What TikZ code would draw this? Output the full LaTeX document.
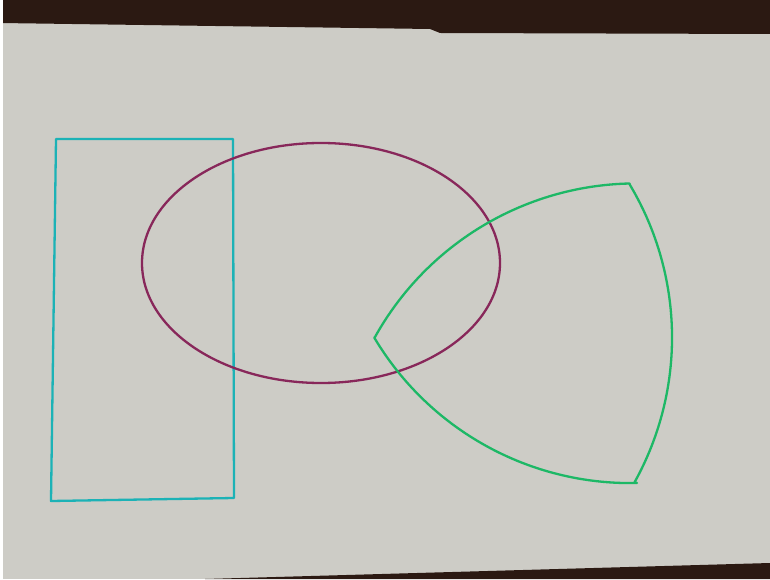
\documentclass[tikz,border=0pt]{standalone}
\usepackage{tikz}
\usetikzlibrary{calc}
\definecolor{wood}    {HTML}{2B1912}
\definecolor{paper}   {HTML}{CDCCC6}
\definecolor{cyanpen} {HTML}{1CB2B6}
\definecolor{plumpen} {HTML}{88275A}
\definecolor{greenpen}{HTML}{1DB866}
\tikzset{
  % --- pen strokes
  pen/.style    = {line width=2.3pt, line join=round, line cap=round},
  rectpen/.style= {pen, draw=cyanpen},
  ovalpen/.style= {pen, draw=plumpen},
  triapen/.style= {pen, draw=greenpen},
}

\begin{document}
\begin{tikzpicture}[x=1pt, y=1pt]
  \useasboundingbox (0,0) rectangle (770,579);

  % ------------------------------------------------------------------ table + sheet
  \fill[paper] (0,0) rectangle (770,579);
  \fill[wood] (0,579) -- (770,579) -- (770,545) -- (440,546) -- (430,550)
    -- (0,556) -- cycle;
  \fill[wood] (205,0) -- (770,0) -- (770,16) -- cycle;
  \fill[white] (0,0) rectangle (3,579);

  % ------------------------------------------------------------------ rectangle
  \coordinate (r1) at (56,440);
  \coordinate (r2) at (233,440);
  \coordinate (r3) at (234,81);
  \coordinate (r4) at (51,78);
  \draw[rectpen] (r1) -- (r2) -- (r3) -- (r4) -- cycle;

  % ------------------------------------------------------------------ ellipse
  \coordinate (oc) at (321,316);
  \draw[ovalpen] (oc) ellipse [x radius=179, y radius=120];

  % ------------------------------------------------------------------ reuleaux triangle
  \coordinate (tl) at (375,242);
  \coordinate (tt) at (630,394);
  \coordinate (tb) at (637,96);
  \draw[triapen] (tl) arc[start angle=150.9, end angle=91.3, radius=299]
    -- (tt) arc[start angle=30.8, end angle=-29.1, radius=298]
    -- (tb) arc[start angle=271.3, end angle=210.8, radius=298] -- cycle;
\end{tikzpicture}
\end{document}
